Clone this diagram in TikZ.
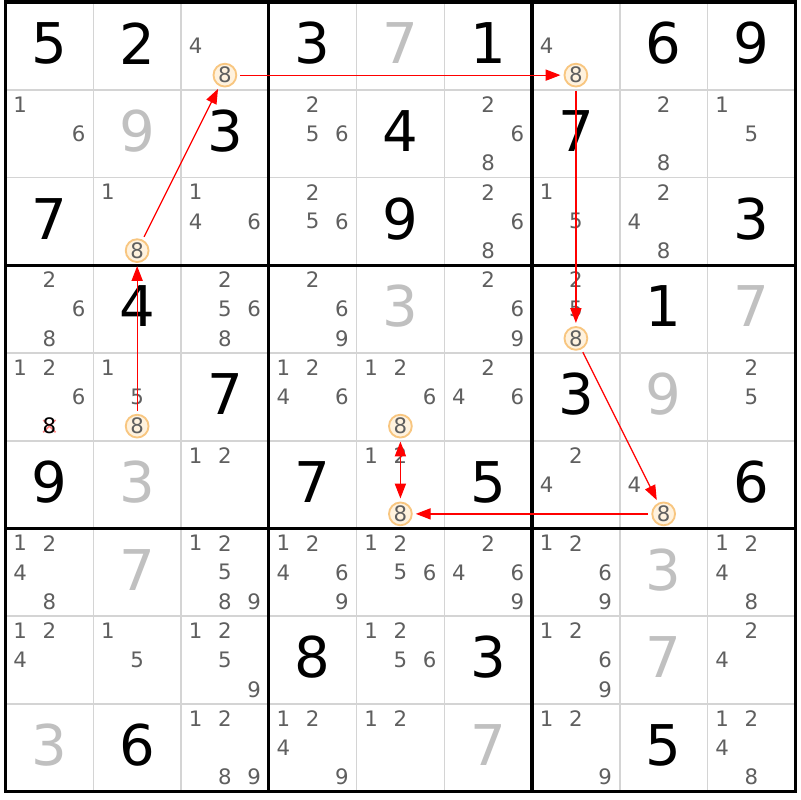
\documentclass[tikz,border=0pt]{standalone}
\usepackage{fontspec}
\setmainfont{DejaVu Sans}
\usetikzlibrary{arrows.meta}

\definecolor{candgray}{RGB}{95,95,95}
\definecolor{solvedgray}{RGB}{192,192,192}
\definecolor{thinline}{RGB}{212,212,212}
\definecolor{ringorange}{RGB}{248,198,128}
\definecolor{ringfill}{RGB}{255,242,222}
\definecolor{crosspink}{RGB}{255,130,130}

\begin{document}
\begin{tikzpicture}[
    given/.style={inner sep=0pt, font=\fontsize{18.2}{20}\selectfont},
    solved/.style={given, text=solvedgray},
    cand/.style={inner sep=0pt, text=candgray, font=\fontsize{6.9}{8}\selectfont},
    ring/.style={cand, circle, minimum size=0.26cm, draw=ringorange, fill=ringfill, line width=0.6pt},
    link/.style={red, line width=0.4pt, >={Triangle[length=4.8pt,width=3.6pt]}, shorten <=1pt, shorten >=1pt}
  ]

  \fill[white] (-0.063,0.023) rectangle (9.054,-9.094);
  \useasboundingbox (-0.063,0.023) rectangle (9.054,-9.094);

  \foreach \i in {1,...,8}{
    \draw[thinline, line width=0.5pt] (\i,0) -- (\i,-9);
    \draw[thinline, line width=0.5pt] (0,-\i) -- (9,-\i);
  }
  \foreach \i in {0,3,6,9}{
    \draw[line width=1.1pt, line cap=rect] (\i,0) -- (\i,-9);
    \draw[line width=1.1pt, line cap=rect] (0,-\i) -- (9,-\i);
  }

  \foreach \r/\c/\d in {1/1/5, 1/2/2, 1/4/3, 1/6/1, 1/8/6, 1/9/9, 2/3/3, 2/5/4,
      2/7/7, 3/1/7, 3/5/9, 3/9/3, 4/2/4, 4/8/1, 5/3/7, 5/7/3, 6/1/9, 6/4/7,
      6/6/5, 6/9/6, 8/4/8, 8/6/3, 9/2/6, 9/8/5}
    \node[given] (g\r\c) at ({\c-0.5},{0.53-\r}) {\d};

  \foreach \r/\c/\d in {1/5/7, 2/2/9, 4/5/3, 4/9/7, 5/8/9, 6/2/3, 7/2/7, 7/8/3,
      8/8/7, 9/1/3, 9/6/7}
    \node[solved] (s\r\c) at ({\c-0.5},{0.53-\r}) {\d};

  \foreach \r/\c/\cands in {1/3/{4}, 1/7/{4},
      2/1/{1,6}, 2/4/{2,5,6}, 2/6/{2,6,8}, 2/8/{2,8}, 2/9/{1,5},
      3/2/{1}, 3/3/{1,4,6}, 3/4/{2,5,6}, 3/6/{2,6,8}, 3/7/{1,5}, 3/8/{2,4,8},
      4/1/{2,6,8}, 4/3/{2,5,6,8}, 4/4/{2,6,9}, 4/6/{2,6,9}, 4/7/{2,5},
      5/1/{1,2,6}, 5/2/{1,5}, 5/4/{1,2,4,6}, 5/5/{1,2,6}, 5/6/{2,4,6}, 5/9/{2,5},
      6/3/{1,2}, 6/5/{1,2}, 6/7/{2,4}, 6/8/{4},
      7/1/{1,2,4,8}, 7/3/{1,2,5,8,9}, 7/4/{1,2,4,6,9}, 7/5/{1,2,5,6},
      7/6/{2,4,6,9}, 7/7/{1,2,6,9}, 7/9/{1,2,4,8},
      8/1/{1,2,4}, 8/2/{1,5}, 8/3/{1,2,5,9}, 8/5/{1,2,5,6}, 8/7/{1,2,6,9}, 8/9/{2,4},
      9/3/{1,2,8,9}, 9/4/{1,2,4,9}, 9/5/{1,2}, 9/7/{1,2,9}, 9/9/{1,2,4,8}}{
    \foreach \n in \cands{
      \pgfmathtruncatemacro\cx{mod(\n-1,3)}
      \pgfmathtruncatemacro\cy{div(\n-1,3)}
      \node[cand] (c\r\c\n) at ({\c-5/6+\cx/3},{5/6-\r-\cy/3}) {\n};
    }
  }

  \coordinate (e51) at (0.5,{1/6-5});
  \draw[crosspink, line width=0.5pt] ([shift={(-0.07,-0.07)}]e51) -- ([shift={(0.07,0.07)}]e51);
  \draw[crosspink, line width=0.5pt] ([shift={(-0.07,0.07)}]e51) -- ([shift={(0.07,-0.07)}]e51);
  \node[cand, text=black] (x51) at (e51) {8};

  \foreach \r/\c in {1/3, 1/7, 3/2, 4/7, 5/2, 5/5, 6/5, 6/8}
    \node[ring] (h\r\c) at ({\c-0.5},{1/6-\r}) {8};

  \draw[link, ->] (h32) -- (h13);
  \draw[link, ->] (h13) -- (h17);
  \draw[link, ->] (h17) -- (h47);
  \draw[link, ->] (h47) -- (h68);
  \draw[link, ->] (h68) -- (h65);
  \draw[link, <->] (h65) -- (h55);
  \draw[link, ->] (h52) -- (h32);
\end{tikzpicture}
\end{document}
